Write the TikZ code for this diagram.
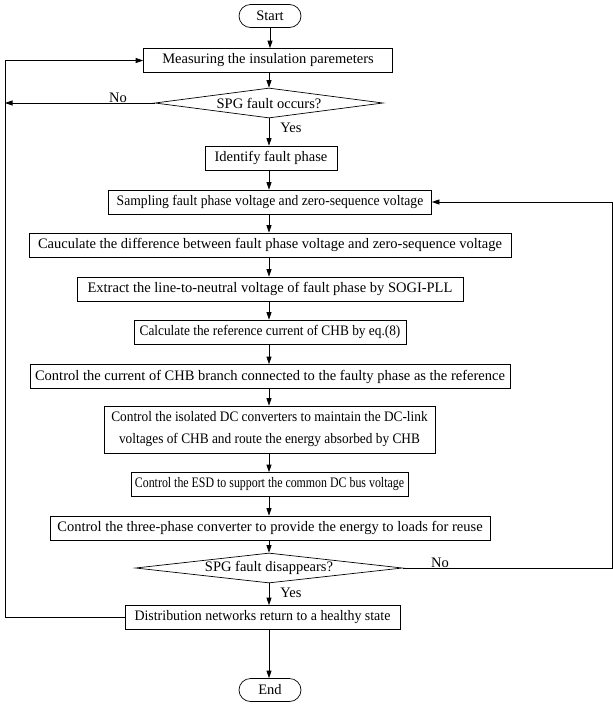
\documentclass[tikz,border=0pt]{standalone}
\usepackage{fontspec}
\setmainfont{Liberation Serif}
\usetikzlibrary{shapes.geometric,arrows.meta}
\begin{document}
\begin{tikzpicture}[x=1pt,y=-1pt,
  font=\fontsize{14.5}{17}\selectfont,
  every path/.style={line width=0.7pt},
  stepbox/.style={draw,line width=0.7pt,inner sep=0pt,minimum height=24pt,align=center},
  sq/.style={font=\fontsize{14.5}{22}\selectfont\addfontfeature{FakeStretch=#1}},
  term/.style={draw,line width=0.7pt,inner sep=0pt,minimum height=23pt,minimum width=62pt,rounded corners=11.5pt},
  decide/.style={draw,line width=0.7pt,diamond,inner sep=0pt,aspect=8.9},
  arr/.style={-{Triangle[length=7.5pt,width=5pt]}},
  lbl/.style={inner sep=1pt}]
\useasboundingbox (0,0) rectangle (613,705);
\node[term] (start) at (270,16) {Start};
\node[stepbox,minimum width=249pt] (meas) at (268,60.5) {Measuring the insulation paremeters};
\node[decide,minimum width=228pt,minimum height=30pt] (d1) at (269,103) {SPG fault occurs?};
\node[stepbox,minimum width=132pt] (ident) at (271,158) {Identify fault phase};
\node[stepbox,minimum width=323pt,sq=0.94] (samp) at (270,202) {Sampling fault phase voltage and zero-sequence voltage};
\node[stepbox,minimum width=482pt] (cauc) at (270,245) {Cauculate the difference between fault phase voltage and zero-sequence voltage};
\node[stepbox,minimum width=386pt] (extr) at (270,289) {Extract the line-to-neutral voltage of fault phase by SOGI-PLL};
\node[stepbox,minimum width=272pt,sq=0.92] (calc) at (270,332) {Calculate the reference current of CHB by eq.(8)};
\node[stepbox,minimum width=480pt] (cur) at (270,376.5) {Control the current of CHB branch connected to the faulty phase as the reference};
\node[stepbox,minimum width=331pt,minimum height=47pt,sq=0.92] (iso) at (269.5,429.5) {Control the isolated DC converters to maintain the DC-link\\voltages of CHB and route the energy absorbed by CHB};
\node[stepbox,minimum width=277pt,sq=0.82] (esd) at (269.5,484.5) {Control the ESD to support the common DC bus voltage};
\node[stepbox,minimum width=440pt] (three) at (270,528) {Control the three-phase converter to provide the energy to loads for reuse};
\node[decide,minimum width=267pt,minimum height=30pt] (d2) at (269,568) {SPG fault disappears?};
\node[stepbox,minimum width=275pt,sq=0.96] (dist) at (262.5,617.5) {Distribution networks return to a healthy state};
\node[term] (end) at (270,690) {End};
\coordinate (l1) at (5,617.5);
\coordinate (l2) at (5,60.5);
\coordinate (l3) at (5,103);
\coordinate (r1) at (612,568);
\coordinate (r2) at (612,202);
\draw[arr] (start) -- (start|-meas.north);
\draw[arr] (meas.south -| d1.north) -- (d1.north);
\draw[arr] (d1.west) -- (l3);
\node[lbl] at (118,98) {No};
\draw[arr] (d1.south) -- (ident.north -| d1.south);
\node[lbl,anchor=west] at (279,128) {Yes};
\draw[arr] (ident.south -| d1.south) -- (samp.north -| d1.south);
\draw[arr] (samp.south -| d1.south) -- (cauc.north -| d1.south);
\draw[arr] (cauc.south -| d1.south) -- (extr.north -| d1.south);
\draw[arr] (extr.south -| d1.south) -- (calc.north -| d1.south);
\draw[arr] (calc.south -| d1.south) -- (cur.north -| d1.south);
\draw[arr] (cur.south -| d1.south) -- (iso.north -| d1.south);
\draw[arr] (iso.south -| d1.south) -- (esd.north -| d1.south);
\draw[arr] (esd.south -| d1.south) -- (three.north -| d1.south);
\draw[arr] (three.south -| d1.south) -- (d2.north);
\draw[arr] (d2.south) -- (dist.north -| d2.south);
\node[lbl,anchor=west] at (279,593) {Yes};
\draw (d2.east) -- (r1) -- (r2);
\draw[arr] (r2) -- (samp.east);
\node[lbl] at (440,563) {No};
\draw (dist.west) -- (l1) -- (l2);
\draw[arr] (l2) -- (meas.west);
\draw[arr] (dist.south -| d2.south) -- (end.north -| d2.south);
\end{tikzpicture}
\end{document}
